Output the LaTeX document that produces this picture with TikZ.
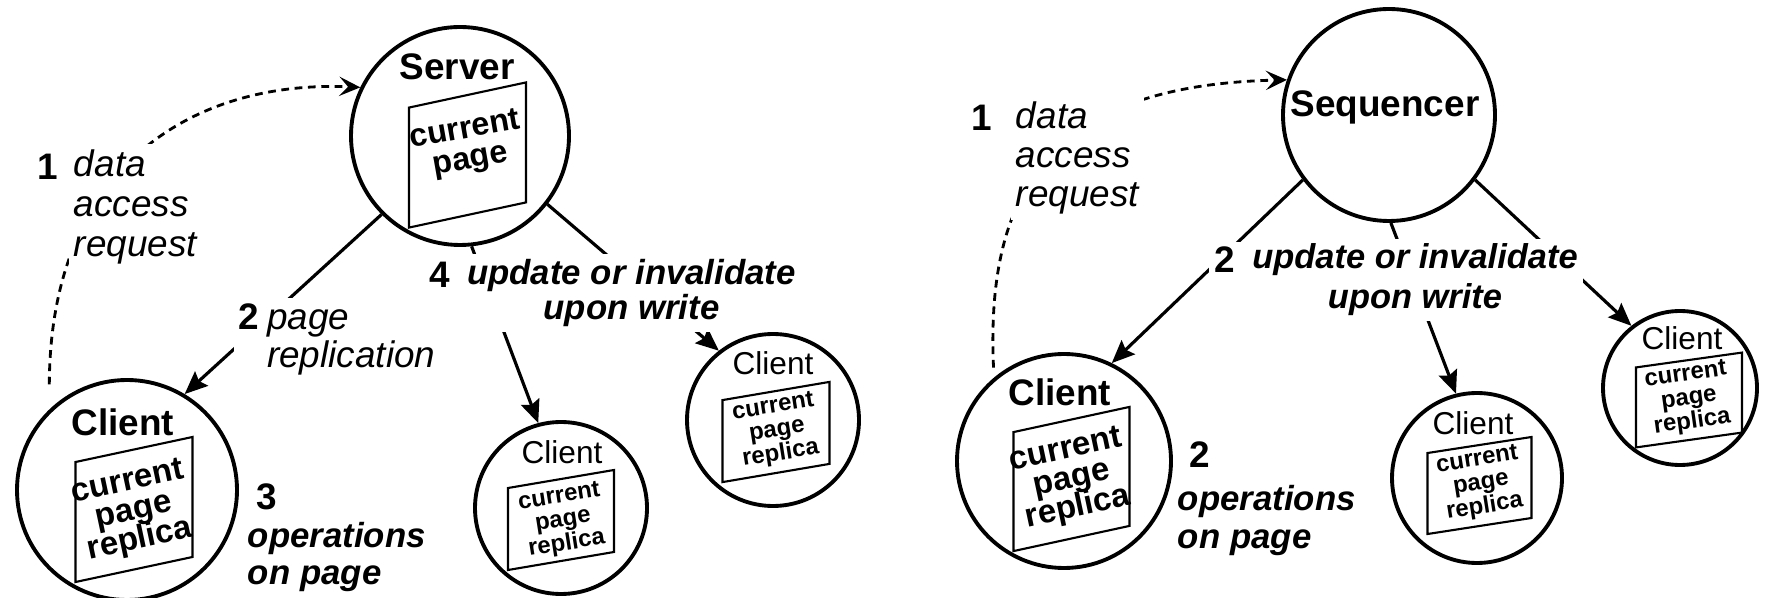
\documentclass[tikz,border=0pt]{standalone}
\usepackage{fontspec}
\setmainfont{Liberation Sans}
\usepackage{tikz}
\usetikzlibrary{positioning,arrows.meta}
\newcommand\tightlines{\lineskiplimit=-10pt\relax\lineskip=0pt\relax}

\begin{document}
\begin{tikzpicture}[
    sitecircle/.style={circle, draw, line width=1.1pt, inner sep=0pt},
    pagebox/.style={draw, line width=0.6pt, inner sep=0pt},
    sendarrow/.style={line width=0.9pt, -{Stealth[length=6.5pt, width=5.5pt, inset=1pt]}},
    reqarrow/.style={line width=0.8pt, dash pattern=on 2.2pt off 1.6pt, -{Stealth[length=6pt, width=5.5pt, inset=2.5pt]}},
    labeltext/.style={fill=white, inner sep=1.5pt},
    bigname/.style={font=\fontsize{10.5}{12}\selectfont\bfseries},
    smallname/.style={font=\fontsize{9}{10}\selectfont},
    stepnum/.style={font=\fontsize{10.5}{12}\selectfont\bfseries},
    bigpage/.style={align=center, font={\fontsize{9.4}{8.4}\selectfont\bfseries\tightlines}},
    smallpage/.style={align=center, font={\fontsize{6.8}{6.8}\selectfont\bfseries\tightlines}},
]
    \path[use as bounding box, fill=white] (0,0) rectangle (17.67,-5.98);

    % =========================================================
    % LEFT: SERVER HOLDS THE PAGE, CLIENTS HOLD REPLICAS
    % =========================================================
    % Server
    \node[sitecircle, minimum size=2.18cm] (server) at (4.60,-1.36) {};
    \node[bigname] (serverName) at (4.57,-0.67) {Server};
    \node[pagebox, minimum width=1.17cm, minimum height=1.20cm, yslant=0.215] (serverPage) at (4.675,-1.55) {};
    \node[align=center, font={\fontsize{9.2}{8.6}\selectfont\bfseries\tightlines}, rotate=10] (serverText) at (4.68,-1.46) {current\\page};

    % Client doing the operations
    \node[sitecircle, minimum size=2.2cm] (clientL) at (1.27,-4.90) {};
    \node[bigname] (clientLName) at (1.23,-4.22) {Client};
    \node[pagebox, minimum width=1.17cm, minimum height=1.20cm, yslant=0.214] (clientLPage) at (1.34,-5.095) {};
    \node[bigpage, rotate=12] (clientLText) at (1.34,-5.12) {current\\page\\replica};

    % Other clients
    \node[sitecircle, minimum size=1.72cm] (clientA) at (5.61,-5.08) {};
    \node[smallname] (clientAName) at (5.62,-4.52) {Client};
    \node[pagebox, minimum width=1.06cm, minimum height=0.82cm, yslant=0.17] (clientAPage) at (5.61,-5.20) {};
    \node[smallpage, rotate=9] (clientAText) at (5.63,-5.21) {current\\page\\replica};

    \node[sitecircle, minimum size=1.72cm] (clientB) at (7.73,-4.20) {};
    \node[smallname] (clientBName) at (7.73,-3.63) {Client};
    \node[pagebox, minimum width=1.07cm, minimum height=0.82cm, yslant=0.17] (clientBPage) at (7.76,-4.32) {};
    \node[smallpage, rotate=9] (clientBText) at (7.77,-4.31) {current\\page\\replica};

    % Connectors
    \draw[sendarrow] (server.225) -- (clientL.59);
    \draw[sendarrow] (server.-84) -- (clientA.105);
    \draw[sendarrow] (server.-38) -- (clientB.128);
    \draw[reqarrow, shorten <=0.25cm] (clientL.134) .. controls (0.50,-1.60) and (2.00,-0.80) .. (server.154);

    % Step labels
    \node[stepnum] (reqNumL) at (0.48,-1.67) {1};
    \node[labeltext, anchor=west, align=left, font=\fontsize{10.5}{11.4}\selectfont\itshape] (reqTextL) at (0.68,-2.07) {data\\access\\request};
    \node[labeltext, anchor=west, align=left, font=\fontsize{10.5}{10.8}\selectfont\itshape] (replTextL) at (2.33,-3.39) {\makebox[8pt][l]{\upshape\bfseries 2}page\\\hspace*{8pt}replication};
    \node[labeltext, anchor=north west, align=left, font=\fontsize{9.9}{10.6}\selectfont\bfseries\itshape] (opsTextL) at (2.42,-4.78) {\hspace*{2.3pt}{\fontsize{10.5}{10.6}\selectfont\upshape 3}\\operations\\on page};
    \node[stepnum] (updNumL) at (4.40,-2.75) {4};
    \node[labeltext, align=center, font=\fontsize{9.9}{10}\selectfont\bfseries\itshape] (updTextL) at (6.315,-2.93) {update or invalidate\\upon write};

    % =========================================================
    % RIGHT: SEQUENCER ORDERS THE WRITES
    % =========================================================
    % Sequencer
    \node[sitecircle, minimum size=2.12cm] (seq) at (13.89,-1.15) {};
    \node[bigname] (seqName) at (13.85,-1.07) {Sequencer};

    % Client doing the operations
    \node[sitecircle, minimum size=2.14cm] (clientR) at (10.64,-4.61) {};
    \node[bigname] (clientRName) at (10.60,-3.92) {Client};
    \node[pagebox, minimum width=1.16cm, minimum height=1.19cm, yslant=0.217] (clientRPage) at (10.715,-4.79) {};
    \node[bigpage, rotate=12] (clientRText) at (10.72,-4.80) {current\\page\\replica};

    % Other clients
    \node[sitecircle, minimum size=1.70cm] (clientC) at (14.77,-4.78) {};
    \node[smallname] (clientCName) at (14.73,-4.23) {Client};
    \node[pagebox, minimum width=1.04cm, minimum height=0.81cm, yslant=0.154] (clientCPage) at (14.795,-4.855) {};
    \node[smallpage, rotate=9] (clientCText) at (14.81,-4.84) {current\\page\\replica};

    \node[sitecircle, minimum size=1.54cm] (clientD) at (16.80,-3.88) {};
    \node[smallname] (clientDName) at (16.82,-3.38) {Client};
    \node[pagebox, minimum width=1.06cm, minimum height=0.80cm, yslant=0.14] (clientDPage) at (16.89,-4.00) {};
    \node[smallpage, rotate=8] (clientDText) at (16.89,-3.99) {current\\page\\replica};

    % Connectors
    \draw[sendarrow] (seq.217.6) -- (clientR.64.6);
    \draw[sendarrow] (seq.-89) -- (clientC.104);
    \draw[sendarrow] (seq.-37) -- (clientD.128);
    \draw[reqarrow, shorten <=0.1cm] (clientR.130) .. controls (9.85,-1.80) and (10.60,-0.85) .. (seq.161);

    % Step labels
    \node[stepnum] (reqNumR) at (9.82,-1.18) {1};
    \node[labeltext, anchor=west, align=left, font=\fontsize{10.5}{11.2}\selectfont\itshape] (reqTextR) at (10.10,-1.58) {data\\access\\request};
    \node[stepnum, labeltext] (updNumR) at (12.25,-2.60) {2};
    \node[labeltext, align=center, font=\fontsize{9.8}{11.4}\selectfont\bfseries\itshape] (updTextR) at (14.15,-2.80) {update or invalidate\\upon write};
    \node[labeltext, anchor=north west, align=left, font=\fontsize{9.9}{10.8}\selectfont\bfseries\itshape] (opsTextR) at (11.72,-4.36) {\hspace*{3.4pt}{\fontsize{10.5}{10.8}\selectfont\upshape 2}\\[1.4pt]operations\\on page};
\end{tikzpicture}
\end{document}
